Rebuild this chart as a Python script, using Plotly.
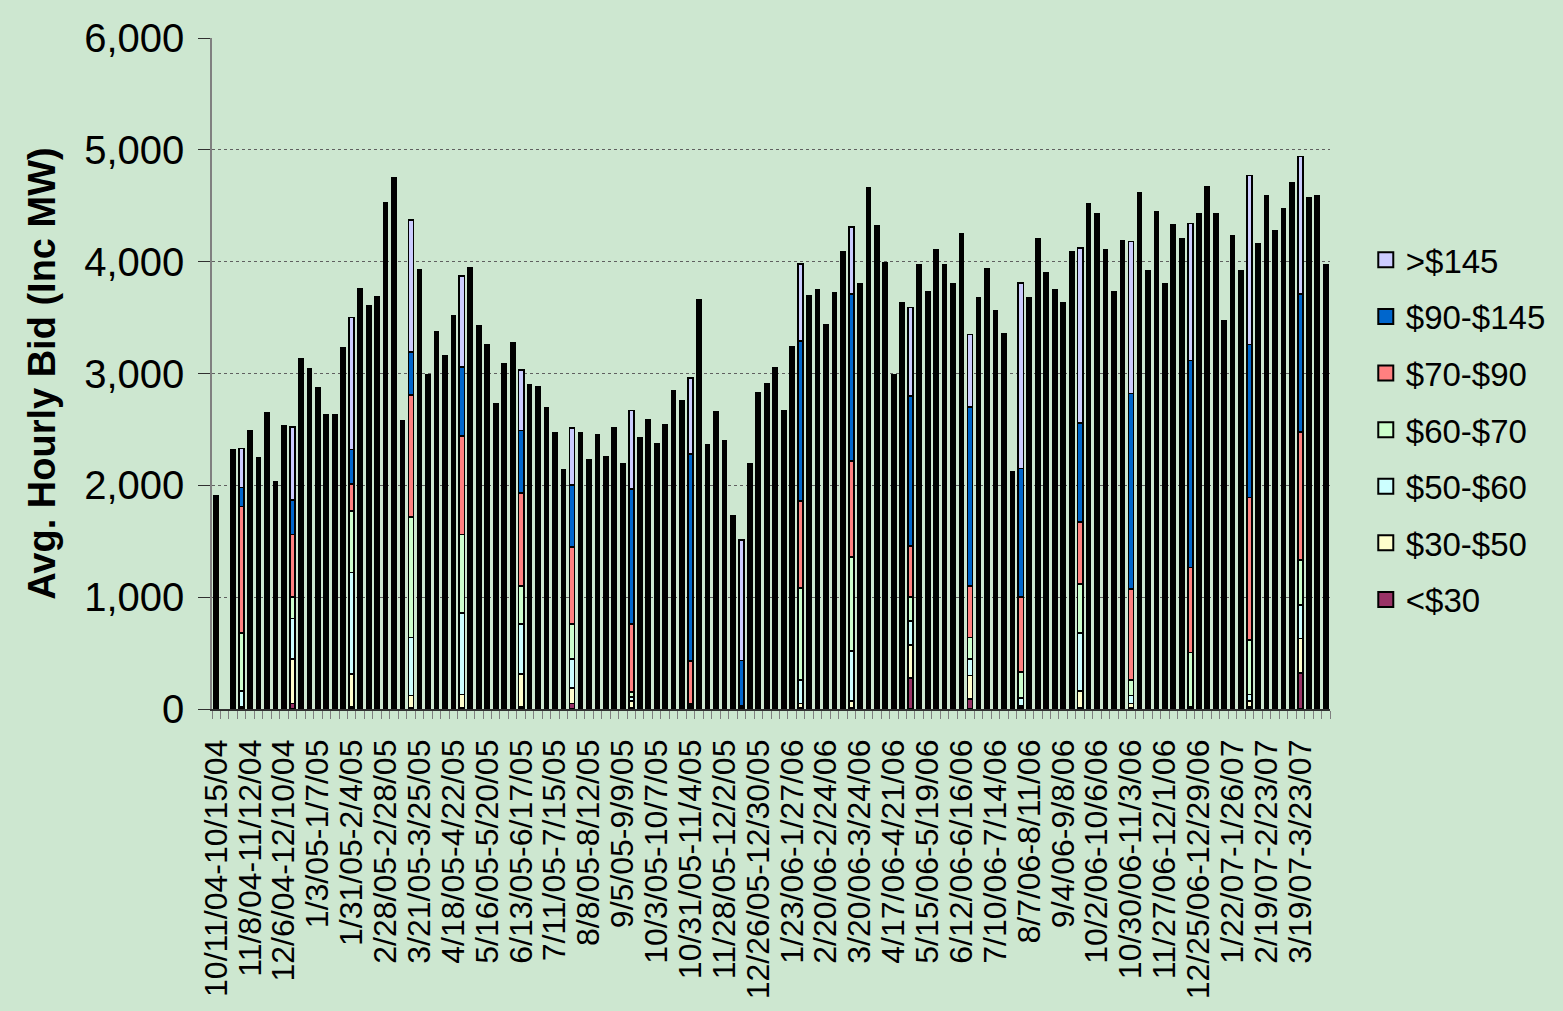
import plotly.graph_objects as go

# ---------------- data (Avg. hourly bid, Inc MW, by price band) ----------------
N_WEEKS = 132  # weekly categories, 10/11/04 ... early 4/07

TICK_LABELS = [
    "10/11/04-10/15/04", "11/8/04-11/12/04", "12/6/04-12/10/04", "1/3/05-1/7/05",
    "1/31/05-2/4/05", "2/28/05-2/28/05", "3/21/05-3/25/05", "4/18/05-4/22/05",
    "5/16/05-5/20/05", "6/13/05-6/17/05", "7/11/05-7/15/05", "8/8/05-8/12/05",
    "9/5/05-9/9/05", "10/3/05-10/7/05", "10/31/05-11/4/05", "11/28/05-12/2/05",
    "12/26/05-12/30/05", "1/23/06-1/27/06", "2/20/06-2/24/06", "3/20/06-3/24/06",
    "4/17/06-4/21/06", "5/15/06-5/19/06", "6/12/06-6/16/06", "7/10/06-7/14/06",
    "8/7/06-8/11/06", "9/4/06-9/8/06", "10/2/06-10/6/06", "10/30/06-11/3/06",
    "11/27/06-12/1/06", "12/25/06-12/29/06", "1/22/07-1/26/07", "2/19/07-2/23/07",
    "3/19/07-3/23/07",
]
LABEL_EVERY = 4

LT30 = [
    10, None, 10, 5, 20, 20, 30, 30, 40, 50,
    40, 40, 30, 30, 30, 20, 20, 20, 30, 30,
    20, 20, 20, 10, 10, 10, 10, 10, 10, 10,
    10, 20, 20, 20, 30, 20, 20, 20, 20, 30,
    30, 20, 50, 40, 20, 20, 20, 20, 20, 10,
    10, 10, 10, 10, 10, 10, 10, 10, 10, 10,
    10, 5, 5, 10, 10, 10, 10, 10, 10, 10,
    10, 10, 10, 10, 10, 10, 10, 10, 220, 50,
    30, 50, 280, 100, 100, 80, 80, 80, 80, 90,
    60, 60, 50, 40, 20, 10, 10, 10, 10, 10,
    10, 10, 10, 10, 10, 10, 10, 10, 10, 10,
    10, 10, 10, 10, 10, 5, 5, 5, 10, 10,
    20, 20, 20, 20, 20, 20, 30, 270, 320, 300,
    320, 320,
]
B30_50 = [
    270, None, 150, 15, 200, 180, 250, 220, 160, 400,
    350, 300, 300, 280, 270, 370, 290, 300, 160, 150,
    150, 150, 120, 110, 100, 100, 280, 150, 130, 120,
    150, 200, 200, 190, 270, 250, 290, 190, 220, 200,
    180, 50, 140, 130, 60, 80, 80, 80, 60, 60,
    50, 60, 40, 30, 20, 20, 15, 20, 20, 30,
    50, 5, 5, 40, 40, 40, 40, 120, 200, 40,
    60, 50, 50, 50, 60, 60, 60, 370, 570, 150,
    100, 150, 290, 200, 180, 150, 150, 150, 180, 210,
    150, 150, 120, 250, 100, 20, 20, 100, 80, 80,
    80, 240, 150, 150, 390, 150, 100, 80, 40, 50,
    40, 50, 30, 30, 20, 5, 10, 10, 20, 60,
    100, 50, 50, 120, 60, 60, 80, 210, 310, 300,
    300, 200,
]
B50_60 = [
    590, None, 250, 140, 300, 250, 300, 250, 380, 360,
    400, 400, 350, 350, 380, 760, 910, 900, 810, 750,
    700, 700, 400, 520, 500, 530, 560, 600, 650, 730,
    700, 600, 550, 400, 700, 500, 450, 440, 400, 350,
    300, 190, 260, 250, 80, 150, 150, 120, 80, 40,
    40, 40, 30, 30, 20, 20, 10, 20, 20, 60,
    60, 10, 5, 80, 80, 100, 100, 240, 590, 210,
    360, 250, 200, 250, 350, 450, 400, 420, 330, 300,
    200, 250, 220, 200, 200, 200, 200, 180, 200, 150,
    150, 150, 130, 150, 150, 70, 80, 320, 250, 250,
    250, 400, 520, 500, 580, 400, 300, 200, 70, 100,
    80, 100, 80, 60, 50, 5, 20, 20, 30, 140,
    450, 100, 60, 210, 100, 100, 100, 300, 300, 300,
    160, 130,
]
B60_70 = [
    400, None, 450, 520, 400, 400, 400, 350, 430, 190,
    450, 450, 400, 400, 420, 580, 550, 600, 880, 850,
    1000, 1050, 600, 1080, 900, 630, 400, 600, 650, 700,
    700, 550, 500, 280, 230, 350, 340, 200, 300, 300,
    300, 100, 310, 300, 200, 150, 150, 130, 90, 40,
    50, 50, 30, 30, 30, 20, 15, 20, 20, 70,
    100, 20, 5, 140, 150, 200, 250, 680, 810, 820,
    360, 700, 600, 700, 800, 840, 750, 940, 480, 500,
    350, 300, 210, 250, 220, 200, 200, 200, 200, 190,
    200, 200, 180, 250, 550, 230, 250, 300, 300, 350,
    350, 600, 440, 450, 500, 400, 350, 300, 140, 200,
    150, 230, 400, 400, 450, 490, 480, 500, 480, 510,
    780, 400, 490, 1130, 500, 450, 400, 370, 400, 400,
    740, 510,
]
B70_90 = [
    190, None, 800, 1130, 700, 650, 700, 500, 730, 560,
    800, 750, 700, 650, 620, 210, 240, 300, 380, 500,
    900, 950, 600, 1090, 950, 750, 1070, 800, 850, 880,
    900, 850, 800, 650, 1040, 900, 830, 860, 800, 750,
    700, 740, 690, 650, 740, 600, 600, 600, 550, 610,
    550, 540, 400, 450, 420, 400, 380, 400, 350, 580,
    500, 60, 5, 670, 600, 600, 650, 400, 400, 780,
    800, 800, 750, 800, 850, 860, 800, 900, 620, 700,
    500, 550, 460, 500, 500, 900, 600, 550, 600, 460,
    500, 550, 500, 990, 400, 670, 650, 460, 600, 550,
    550, 400, 550, 600, 510, 600, 600, 700, 810, 800,
    700, 1410, 300, 700, 700, 760, 750, 800, 800, 600,
    600, 900, 1270, 500, 1200, 1100, 1150, 1150, 1150, 1100,
    1000, 600,
]
B90_145 = [
    170, None, 250, 170, 300, 280, 320, 250, 350, 310,
    400, 450, 400, 350, 340, 220, 310, 350, 270, 320,
    450, 470, 300, 380, 450, 360, 410, 450, 550, 620,
    650, 600, 600, 530, 380, 600, 560, 570, 560, 550,
    500, 500, 550, 550, 780, 890, 700, 900, 900, 1210,
    1100, 1300, 1110, 1300, 1600, 1580, 1850, 2630, 1400, 1450,
    960, 900, 410, 700, 1200, 1200, 1250, 660, 630, 1430,
    1510, 1350, 1250, 1300, 1400, 1490, 1300, 1300, 1350, 1500,
    1200, 1500, 1340, 1700, 1600, 1870, 1800, 1750, 1900, 1600,
    1800, 1900, 1700, 1000, 500, 1150, 1300, 1290, 1020, 1000,
    900, 820, 890, 1000, 1110, 1000, 1000, 1400, 1750, 1800,
    1600, 1260, 1520, 1700, 1750, 1850, 1900, 2000, 1800, 670,
    1080, 1300, 1370, 840, 1400, 1300, 1350, 1110, 1230, 1200,
    720, 760,
]
GT145 = [
    270, None, 400, 350, 560, 460, 640, 420, 430, 650,
    680, 640, 680, 560, 560, 1060, 1180, 1280, 1070, 1080,
    1300, 1400, 530, 1180, 1010, 600, 630, 540, 670, 810,
    830, 600, 580, 650, 430, 650, 540, 610, 570, 500,
    450, 530, 510, 540, 340, 550, 550, 660, 480, 700,
    620, 580, 740, 680, 740, 700, 680, 550, 530, 450,
    710, 720, 1075, 540, 740, 750, 740, 550, 590, 690,
    590, 580, 570, 600, 610, 600, 470, 710, 740, 780,
    600, 820, 790, 1010, 920, 700, 930, 880, 1080, 650,
    810, 920, 870, 670, 390, 1660, 1360, 1720, 1630, 1500,
    1480, 1610, 1560, 1800, 1320, 1540, 1360, 1490, 1360, 1650,
    1330, 1380, 1450, 1420, 1220, 1225, 1255, 1325, 1280, 1470,
    1190, 1140, 1510, 1330, 1300, 1240, 1350, 1290, 1230, 960,
    1340, 1440,
]

SERIES_NAMES = ["<$30", "$30-$50", "$50-$60", "$60-$70", "$70-$90", "$90-$145", ">$145"]
SERIES_VALUES = [LT30, B30_50, B50_60, B60_70, B70_90, B90_145, GT145]

# ---------------- style ----------------
COLORS = ["#993366", "#FFFFCC", "#CCFFFF", "#CCFFCC", "#FF8080", "#0066CC", "#CCCCFF"]
BG = "#CDE7D0"
FONT = "Arial, 'Liberation Sans', Helvetica, sans-serif"
# weeks whose stacked colours show through the heavy black outline in the source image
OPEN_BARS = [3, 9, 16, 23, 29, 36, 42, 49, 56, 62, 69, 75, 82, 89, 95, 102, 108, 115, 122, 128]

weeks = list(range(N_WEEKS))
bar_w = [0.6 if i in OPEN_BARS else 0.25 for i in weeks]
line_w = [1.7 if i in OPEN_BARS else 3.6 for i in weeks]

fig = go.Figure()
for name, vals, col in zip(SERIES_NAMES, SERIES_VALUES, COLORS):
    fig.add_trace(go.Bar(
        x=weeks, y=vals, width=bar_w, name=name,
        marker=dict(color=col, line=dict(color="black", width=line_w)),
        showlegend=False, legendgroup=name,
    ))

# legend entries (top to bottom: >$145 ... <$30), square swatches
for rank, (name, col) in enumerate(zip(SERIES_NAMES[::-1], COLORS[::-1])):
    fig.add_trace(go.Scatter(
        x=[None], y=[None], mode="markers", name=name, legendgroup=name,
        legendrank=rank + 1,
        marker=dict(symbol="square", size=15, color=col,
                    line=dict(color="black", width=2)),
        showlegend=True,
    ))

boundaries = [i - 0.5 for i in range(N_WEEKS + 1)]

fig.update_layout(
    width=1563, height=1011,
    margin=dict(l=212, r=231, t=38, b=302, pad=0),
    paper_bgcolor=BG, plot_bgcolor=BG,
    barmode="stack",
    font=dict(family=FONT, color="black"),
    legend=dict(
        x=1.032, xanchor="left", y=0.711, yanchor="top",
        font=dict(size=33, family=FONT, color="black"),
        tracegroupgap=10.7, traceorder="grouped",
        bgcolor="rgba(0,0,0,0)", itemclick=False,
    ),
    xaxis=dict(
        range=[-0.5, N_WEEKS - 0.5],
        tickmode="array",
        tickvals=[LABEL_EVERY * k for k in range(len(TICK_LABELS))],
        ticktext=TICK_LABELS,
        tickangle=-90,
        tickfont=dict(size=32, family=FONT, color="black"),
        ticks="",
        ticklabelstandoff=16,
        showline=True, linecolor="#303030", linewidth=1.5,
        showgrid=False, zeroline=False,
        minor=dict(tickmode="array", tickvals=boundaries, ticks="outside",
                   ticklen=8, tickwidth=1, tickcolor="#808080", showgrid=False),
    ),
    yaxis=dict(
        range=[0, 6000],
        tickmode="array",
        tickvals=[0, 1000, 2000, 3000, 4000, 5000, 6000],
        tickformat=",d",
        tickfont=dict(size=40, family=FONT, color="black"),
        ticks="outside", ticklen=12, tickwidth=1.2, tickcolor="#303030",
        ticklabelstandoff=6,
        showline=True, linecolor="#808080", linewidth=1.5,
        showgrid=True, gridcolor="#606060", griddash="dot", gridwidth=1,
        zeroline=False,
        title=dict(text="<b>Avg. Hourly Bid (Inc MW)</b>",
                   font=dict(size=38, family=FONT, color="black"), standoff=17),
    ),
)

fig.write_html(
    "out.html",
    config={"displayModeBar": False},
    post_script="document.body.style.margin='0';document.body.style.overflow='hidden';",
)
